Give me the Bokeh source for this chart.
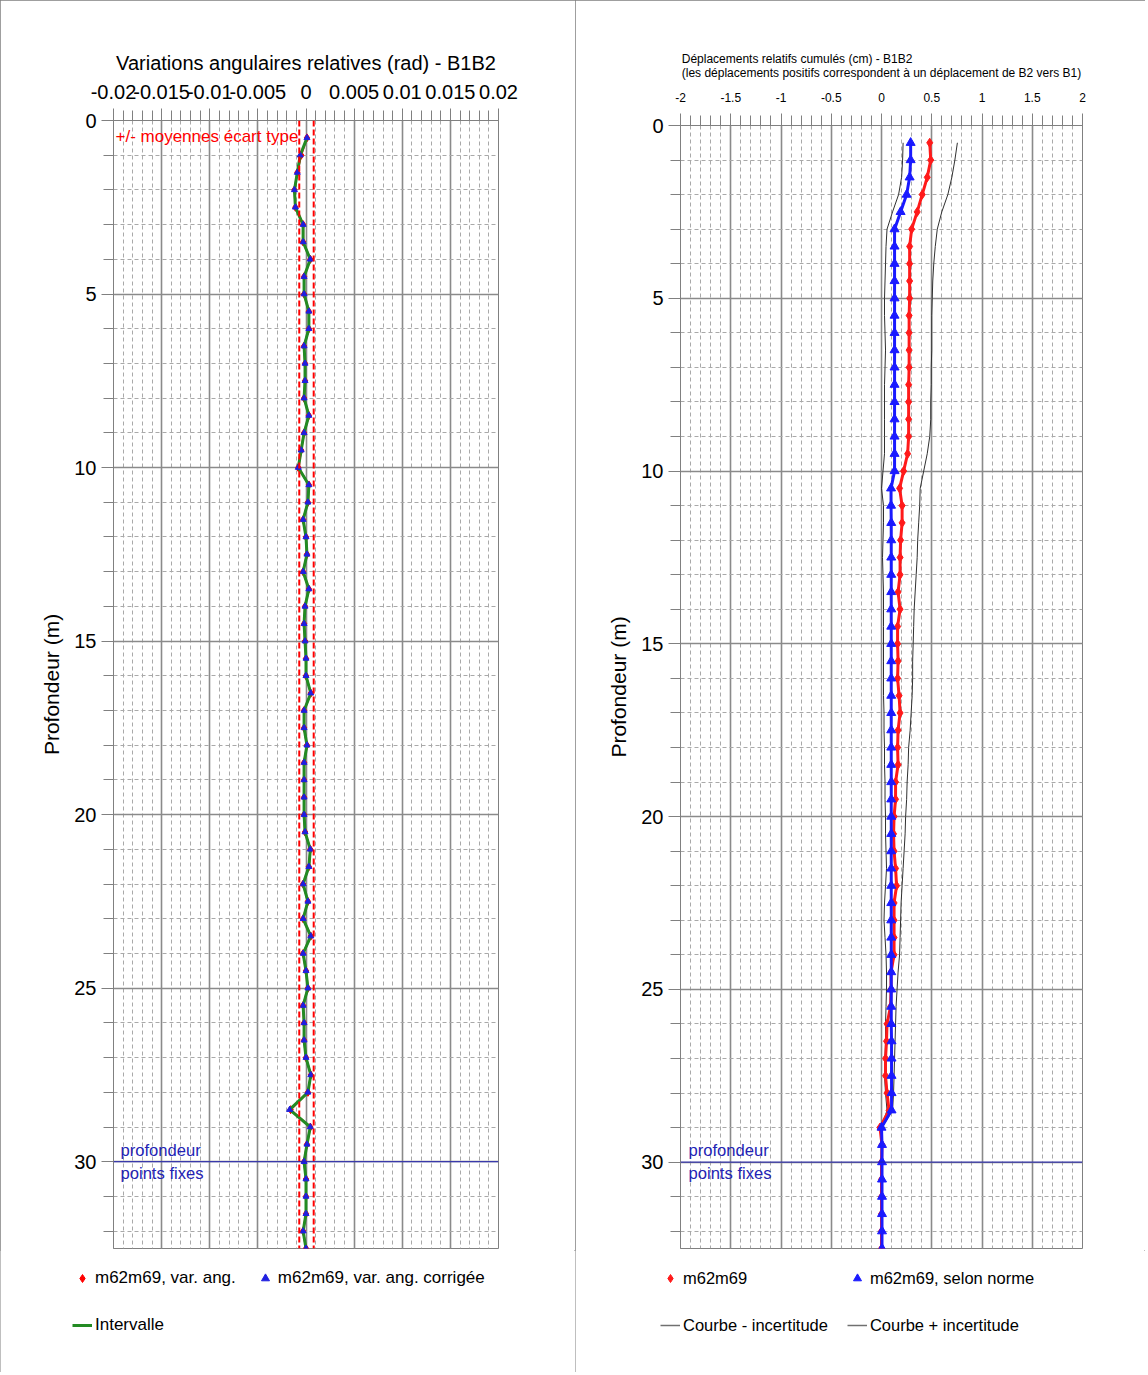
from bokeh.plotting import figure
from bokeh.layouts import row, column
from bokeh.models import Range1d, FixedTicker, Span, Label, Legend, LegendItem
from bokeh.embed import file_html
from bokeh.resources import INLINE

FONT = "Liberation Sans"

# ---------------- data ----------------
depths = [0.5, 1.0, 1.5, 2.0, 2.5, 3.0, 3.5, 4.0, 4.5, 5.0, 5.5, 6.0, 6.5, 7.0, 7.5, 8.0,
          8.5, 9.0, 9.5, 10.0, 10.5, 11.0, 11.5, 12.0, 12.5, 13.0, 13.5, 14.0, 14.5, 15.0,
          15.5, 16.0, 16.5, 17.0, 17.5, 18.0, 18.5, 19.0, 19.5, 20.0, 20.5, 21.0, 21.5, 22.0,
          22.5, 23.0, 23.5, 24.0, 24.5, 25.0, 25.5, 26.0, 26.5, 27.0, 27.5, 28.0, 28.5, 29.0,
          29.5, 30.0, 30.5, 31.0, 31.5, 32.0, 32.5]

# angular variations (rad)
ang_var = [0.0001, -0.0005, -0.0009, -0.0012, -0.0011, -0.0003, -0.0003, 0.00045, -0.0002, -0.0002,
           0.0003, 0.0003, -0.0002, -0.0001, -0.0001, -0.0002, 0.0003, -0.0002, -0.0005, -0.0008,
           0.0003, 0.0002, -0.0003, 0.0, 0.0001, -0.0003, 0.0003, -0.0001, -0.0002, -0.0001,
           0.0, 0.0, 0.0005, -0.0002, -0.0002, 0.0001, -0.0002, -0.0002, -0.0002, -0.0002,
           -0.0001, 0.00045, 0.0003, -0.0003, 0.0002, -0.0003, 0.0005, -0.0003, 0.0, 0.0002,
           -0.0003, -0.0002, -0.0002, 0.0, 0.0005, 0.0002, -0.0016, 0.00045, 0.0001, -0.0002,
           0.0, 0.0, 0.0, -0.0003, 0.0]
ang_var_corr = [0.0001, -0.0006, -0.0009, -0.0012, -0.0011, -0.0003, -0.0003, 0.00045, -0.0002, -0.0002,
                0.0003, 0.0003, -0.0002, -0.0001, -0.0001, -0.0002, 0.0003, -0.0002, -0.0005, -0.0008,
                0.0003, 0.0002, -0.0003, 0.0, 0.0001, -0.0003, 0.0003, -0.0001, -0.0002, -0.0001,
                0.0, 0.0, 0.0005, -0.0002, -0.0002, 0.0001, -0.0002, -0.0002, -0.0002, -0.0002,
                -0.0001, 0.00045, 0.0003, -0.0003, 0.0002, -0.0003, 0.0005, -0.0003, 0.0, 0.0002,
                -0.0003, -0.0002, -0.0002, 0.0, 0.0005, 0.0002, -0.0017, 0.00045, 0.0001, -0.0002,
                0.0, 0.0, 0.0, -0.0003, 0.0]
ang_interval = [0.0001, -0.0006, -0.0009, -0.0012, -0.0011, -0.0003, -0.0003, 0.00045, -0.0002, -0.0002,
                0.0003, 0.0003, -0.0002, -0.0001, -0.0001, -0.0002, 0.0003, -0.0002, -0.0005, -0.0008,
                0.0003, 0.0002, -0.0003, 0.0, 0.0001, -0.0003, 0.0003, -0.0001, -0.0002, -0.0001,
                0.0, 0.0, 0.0005, -0.0002, -0.0002, 0.0001, -0.0002, -0.0002, -0.0002, -0.0002,
                -0.0001, 0.00045, 0.0003, -0.0003, 0.0002, -0.0003, 0.0005, -0.0003, 0.0, 0.0002,
                -0.0003, -0.0002, -0.0002, 0.0, 0.0005, 0.0002, -0.0017, 0.00045, 0.0001, -0.0002,
                0.0, 0.0, 0.0, -0.0003, 0.0]
sd_band = [-0.0007, 0.0008]

# cumulated displacements (cm)
disp = [0.48, 0.49, 0.455, 0.405, 0.355, 0.30, 0.28, 0.28, 0.28, 0.28,
        0.275, 0.275, 0.275, 0.275, 0.27, 0.27, 0.27, 0.27, 0.26, 0.22,
        0.18, 0.205, 0.205, 0.19, 0.185, 0.185, 0.165, 0.185, 0.16, 0.16,
        0.165, 0.16, 0.175, 0.185, 0.165, 0.16, 0.165, 0.14, 0.14, 0.125,
        0.12, 0.125, 0.14, 0.15, 0.125, 0.125, 0.125, 0.125, 0.095, 0.095,
        0.09, 0.055, 0.05, 0.04, 0.04, 0.055, 0.075, -0.015, 0.005, 0.0,
        0.0, 0.0, 0.0, 0.0, 0.0]
disp_norm = [0.29, 0.29, 0.28, 0.25, 0.19, 0.13, 0.13, 0.13, 0.13, 0.13,
             0.13, 0.13, 0.13, 0.13, 0.13, 0.13, 0.13, 0.13, 0.13, 0.13,
             0.095, 0.095, 0.097, 0.097, 0.097, 0.097, 0.097, 0.097, 0.097, 0.097,
             0.097, 0.097, 0.097, 0.097, 0.097, 0.097, 0.097, 0.097, 0.097, 0.097,
             0.097, 0.097, 0.097, 0.097, 0.097, 0.097, 0.097, 0.097, 0.097, 0.097,
             0.097, 0.097, 0.1, 0.1, 0.1, 0.1, 0.1, 0.0, 0.005, 0.005,
             0.005, 0.005, 0.005, 0.005, 0.005]
disp_minus = [0.215, 0.21, 0.2, 0.17, 0.11, 0.055, 0.045, 0.04, 0.035, 0.03,
              0.03, 0.035, 0.04, 0.035, 0.03, 0.03, 0.03, 0.03, 0.03, 0.015,
              0.0, 0.02, 0.02, 0.015, 0.01, 0.015, 0.02, 0.02, 0.02, 0.02,
              0.02, 0.02, 0.02, 0.025, 0.025, 0.03, 0.03, 0.035, 0.035, 0.04,
              0.04, 0.045, 0.05, 0.04, 0.03, 0.025, 0.035, 0.045, 0.05, 0.05,
              0.045, 0.04, 0.04, 0.035, 0.03, 0.04, 0.055, 0.0, 0.0, 0.0,
              0.0, 0.0, 0.0, 0.0, 0.0]
disp_plus = [0.755, 0.73, 0.70, 0.66, 0.60, 0.555, 0.535, 0.52, 0.51, 0.505,
             0.50, 0.50, 0.50, 0.495, 0.495, 0.49, 0.49, 0.48, 0.455, 0.42,
             0.385, 0.38, 0.37, 0.36, 0.355, 0.345, 0.335, 0.325, 0.32, 0.315,
             0.31, 0.31, 0.305, 0.295, 0.285, 0.27, 0.265, 0.255, 0.25, 0.24,
             0.235, 0.225, 0.215, 0.205, 0.195, 0.19, 0.185, 0.18, 0.165, 0.155,
             0.145, 0.14, 0.135, 0.13, 0.125, 0.12, 0.11, 0.005, 0.005, 0.005,
             0.005, 0.005, 0.005, 0.005, 0.005]

fixed_depth = 30

left_xticks = [-0.02, -0.015, -0.01, -0.005, 0, 0.005, 0.01, 0.015, 0.02]
left_xtick_labels = ["-0.02", "-0.015", "-0.01", "-0.005", "0", "0.005", "0.01", "0.015", "0.02"]
right_xticks = [-2, -1.5, -1, -0.5, 0, 0.5, 1, 1.5, 2]
right_xtick_labels = ["-2", "-1.5", "-1", "-0.5", "0", "0.5", "1", "1.5", "2"]
yticks = [0, 5, 10, 15, 20, 25, 30]
ytick_labels = ["0", "5", "10", "15", "20", "25", "30"]

left_title = "Variations angulaires relatives (rad) - B1B2"
right_title = ("Déplacements relatifs cumulés (cm) - B1B2\n"
               "(les déplacements positifs correspondent à un déplacement de B2 vers B1)")

left_labels = ["m62m69, var. ang.", "m62m69, var. ang. corrigée", "Intervalle"]
right_labels = ["m62m69", "m62m69, selon norme", "Courbe - incertitude", "Courbe + incertitude"]

left_minor = [round(-0.02 + 0.001 * i, 4) for i in range(41)]
right_minor = [round(-2 + 0.1 * i, 2) for i in range(41)]
y_minor = list(range(0, 33))

FIX_COLOR = "#2323b4"
RED_L, BLUE_L, GREEN_L = "#ff0000", "#1f1fe0", "#238b23"
RED_R, BLUE_R, GREY_R = "#ff1a1a", "#1a1aff", "#303030"
PLOT_H = 1250
LEG_H = 122


def style_axes(p, xticks, xlabels, xminor, xfont, xstandoff):
    p.xaxis.ticker = FixedTicker(ticks=xticks, minor_ticks=xminor)
    p.xaxis.major_label_overrides = {t: l for t, l in zip(xticks, xlabels)}
    p.yaxis.ticker = FixedTicker(ticks=yticks, minor_ticks=y_minor)
    p.yaxis.major_label_overrides = {t: l for t, l in zip(yticks, ytick_labels)}
    p.xaxis.major_label_text_font_size = xfont
    p.yaxis.major_label_text_font_size = "20px"
    for ax in (p.xaxis, p.yaxis):
        ax.major_label_text_font = FONT
        ax.major_label_text_color = "#000000"
        ax.axis_line_color = "#808080"
        ax.major_tick_line_color = "#808080"
        ax.minor_tick_line_color = "#808080"
        ax.major_tick_out = 12
        ax.major_tick_in = 0
        ax.minor_tick_out = 10
        ax.minor_tick_in = 0
        ax.major_label_standoff = 5
    p.xaxis.major_label_standoff = xstandoff
    p.yaxis.axis_label = "Profondeur (m)"
    p.yaxis.axis_label_text_font = FONT
    p.yaxis.axis_label_text_font_size = "21px"
    p.yaxis.axis_label_text_font_style = "normal"
    p.yaxis.axis_label_text_color = "#000000"
    p.yaxis.axis_label_standoff = 8
    for g in (p.xgrid, p.ygrid):
        g.grid_line_color = "#8a8a8a"
        g.grid_line_width = 1.6
        g.minor_grid_line_color = "#a9a9a9"
        g.minor_grid_line_dash = "4 3"
        g.minor_grid_line_width = 1
    p.outline_line_color = "#808080"
    p.background_fill_color = "#ffffff"
    p.border_fill_color = "#ffffff"
    p.title.text_font = FONT
    p.title.text_font_style = "normal"
    p.title.text_color = "#000000"
    p.title.align = "center"


def add_fixed(p, xleft, xoff):
    p.add_layout(Span(location=fixed_depth, dimension="width", line_color=FIX_COLOR, line_width=1))
    p.add_layout(Label(x=xleft, y=fixed_depth, x_offset=xoff, y_offset=2, text="profondeur",
                       text_baseline="bottom", text_color=FIX_COLOR, text_font=FONT,
                       text_font_size="16.6px"))
    p.add_layout(Label(x=xleft, y=fixed_depth, x_offset=xoff, y_offset=-2, text="points fixes",
                       text_baseline="top", text_color=FIX_COLOR, text_font=FONT,
                       text_font_size="16.6px"))


def legend_figure(width, specs, labels, xpos, lw, fsize):
    # legend proxies: same series, drawn outside this strip's visible y-range
    f = figure(width=width, height=LEG_H, x_range=Range1d(-1, 1), y_range=Range1d(-3, -2),
               x_axis_type=None, y_axis_type=None, output_backend="svg", toolbar_location=None,
               min_border_left=0, min_border_right=0, min_border_top=0, min_border_bottom=0)
    f.grid.visible = False
    f.outline_line_color = None
    f.background_fill_color = "#ffffff"
    f.border_fill_color = "#ffffff"
    items = []
    for (kind, xs, kw), lab in zip(specs, labels):
        if kind == "scatter":
            r = f.scatter(xs, depths, **kw)
        else:
            r = f.line(xs, depths, **kw)
        items.append(LegendItem(label=lab, renderers=[r]))
    leg = Legend(items=items, location=(xpos, LEG_H - 14 - 75), orientation="horizontal", ncols=2,
                 glyph_width=20, glyph_height=28, label_standoff=3, label_width=lw,
                 label_height=28, spacing=19, padding=0, margin=0,
                 label_text_font=FONT, label_text_font_size=fsize, label_text_color="#000000",
                 border_line_color=None, background_fill_alpha=0)
    f.add_layout(leg)
    return f


# ---------------- left figure ----------------
pL = figure(width=575, height=PLOT_H, x_range=Range1d(-0.02, 0.02), y_range=Range1d(32.5, 0),
            x_axis_location="above", output_backend="svg", toolbar_location=None,
            min_border_left=113, min_border_right=77, min_border_top=120,
            min_border_bottom=PLOT_H - 1248, title=left_title)
style_axes(pL, left_xticks, left_xtick_labels, left_minor, "20px", 10)
pL.title.text_font_size = "20px"
pL.title.standoff = 15

for v in sd_band:
    pL.add_layout(Span(location=v, dimension="height", line_color="#ff0000",
                       line_dash="6 3", line_width=2))
pL.add_layout(Label(x=-0.02, y=0.45, x_offset=2, text="+/- moyennes écart type",
                    text_baseline="middle", text_color="#ff0000", text_font=FONT,
                    text_font_size="17px"))
add_fixed(pL, -0.02, 7)

pL.line(ang_var, depths, line_color="#e02020", line_width=2)
pL.scatter(ang_var, depths, marker="diamond", size=8, fill_color=RED_L, line_color=RED_L)
pL.line(ang_interval, depths, line_color=GREEN_L, line_width=3)
pL.scatter(ang_var_corr, depths, marker="triangle", size=6, fill_color=BLUE_L, line_color=BLUE_L)

legfig_L = legend_figure(
    575,
    [("scatter", ang_var, dict(marker="diamond", fill_color=RED_L, line_color=RED_L)),
     ("scatter", ang_var_corr, dict(marker="triangle", fill_color=BLUE_L, line_color=BLUE_L)),
     ("line", ang_interval, dict(line_color=GREEN_L, line_width=3))],
    left_labels, 72, 130, "17px")

# ---------------- right figure ----------------
pR = figure(width=570, height=PLOT_H, x_range=Range1d(-2, 2), y_range=Range1d(32.5, 0),
            x_axis_location="above", output_backend="svg", toolbar_location=None,
            min_border_left=105, min_border_right=63, min_border_top=125,
            min_border_bottom=PLOT_H - 1248, title=right_title)
style_axes(pR, right_xticks, right_xtick_labels, right_minor, "12px", 12)
pR.title.text_font_size = "12px"
pR.title.standoff = 19

add_fixed(pR, -2, 8)

pR.line(disp_minus, depths, line_color=GREY_R, line_width=1)
pR.line(disp_plus, depths, line_color=GREY_R, line_width=1)
pR.line(disp, depths, line_color=RED_R, line_width=3)
pR.scatter(disp, depths, marker="diamond", size=9, fill_color=RED_R, line_color=RED_R)
pR.line(disp_norm, depths, line_color=BLUE_R, line_width=3)
pR.scatter(disp_norm, depths, marker="triangle", size=9, fill_color=BLUE_R, line_color=BLUE_R)

legfig_R = legend_figure(
    570,
    [("scatter", disp, dict(marker="diamond", fill_color=RED_R, line_color=RED_R)),
     ("scatter", disp_norm, dict(marker="triangle", fill_color=BLUE_R, line_color=BLUE_R)),
     ("line", disp_minus, dict(line_color="#707070", line_width=1.5)),
     ("line", disp_plus, dict(line_color="#707070", line_width=1.5))],
    right_labels, 85, 140, "16.5px")

frame_style = {"outline": "1px solid #7f7f7f", "outline-offset": "-1px"}
left_col = column(pL, row(legfig_L), styles=frame_style)
right_col = column(pR, row(legfig_R), styles=frame_style)
layout = row(left_col, right_col)
open("out.html", "w").write(file_html(layout, INLINE))
